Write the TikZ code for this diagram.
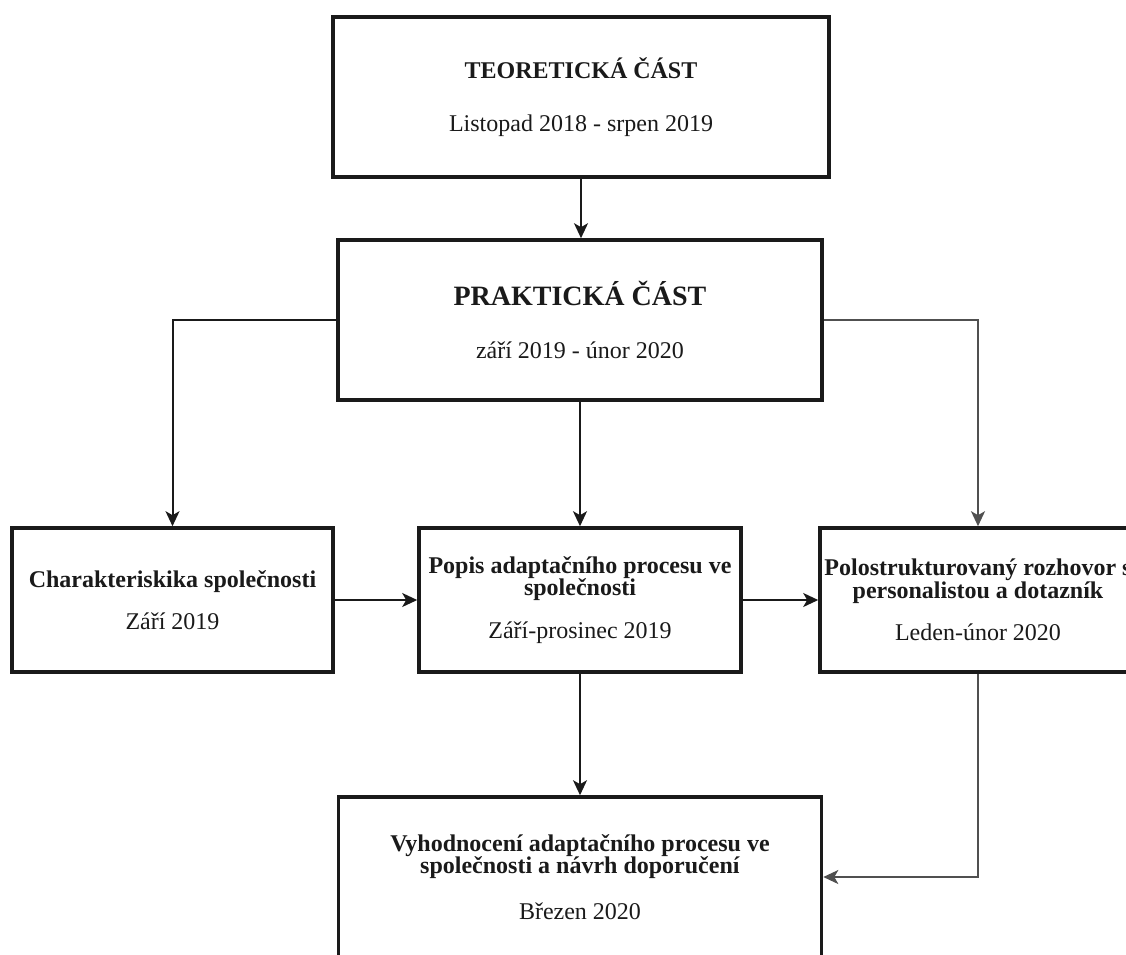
\documentclass[tikz,border=0pt]{standalone}
\usepackage{fontspec}
\setmainfont{Liberation Serif}
\usetikzlibrary{arrows.meta}
\definecolor{ink}{HTML}{1A1A1A}
\definecolor{linkgray}{HTML}{505050}
\tikzset{
  box/.style={draw=ink, line width=3.6pt, fill=white, inner sep=0pt, align=center,
    text=ink, font=\fontsize{24}{22.5}\selectfont},
  link/.style={draw=ink, line width=2pt, -{Stealth[length=15pt,width=14pt,inset=4pt]}},
  graylink/.style={link, draw=linkgray},
}
\begin{document}
\begin{tikzpicture}[x=1pt,y=-1pt]
\useasboundingbox (0,0) rectangle (1126,954);
\clip (0,0) rectangle (1126,954);
\node[box, minimum width=496pt, minimum height=160pt] (b1) at (581,97)
  {\textbf{TEORETICKÁ ČÁST}\\[30pt]Listopad 2018 - srpen 2019};
\node[box, minimum width=484pt, minimum height=160pt] (b2) at (580,320)
  {{\fontsize{28}{22}\selectfont\textbf{PRAKTICKÁ ČÁST}}\\[30pt]září 2019 - únor 2020};
\node[box, minimum width=321pt, minimum height=144pt] (b3) at (172.5,600)
  {\textbf{Charakteriskika společnosti}\\[19pt]Září 2019};
\node[box, minimum width=322pt, minimum height=144pt] (b4) at (580,600)
  {\textbf{Popis adaptačního procesu ve}\\\textbf{společnosti}\\[20pt]Září-prosinec 2019};
\node[box, minimum width=316pt, minimum height=144pt] (b5) at (978,600)
  {\textbf{Polostrukturovaný rozhovor s}\\\textbf{personalistou a dotazník}\\[20pt]Leden-únor 2020};
\node[box, minimum width=483pt, minimum height=160pt] (b6) at (580,877)
  {\textbf{Vyhodnocení adaptačního procesu ve}\\\textbf{společnosti a návrh doporučení}\\[23pt]Březen 2020};
\draw[link] (b1.south) -- (b1.south |- b2.north);
\draw[link] (b2.west) -| (b3.north);
\draw[graylink] (b2.east) -| (b5.north);
\draw[link] (b2.south) -- (b4.north);
\draw[link] (b3.east) -- (b4.west);
\draw[link] (b4.east) -- (b5.west);
\draw[link] (b4.south) -- (b6.north);
\draw[graylink] (b5.south) |- (b6.east);
\end{tikzpicture}
\end{document}
